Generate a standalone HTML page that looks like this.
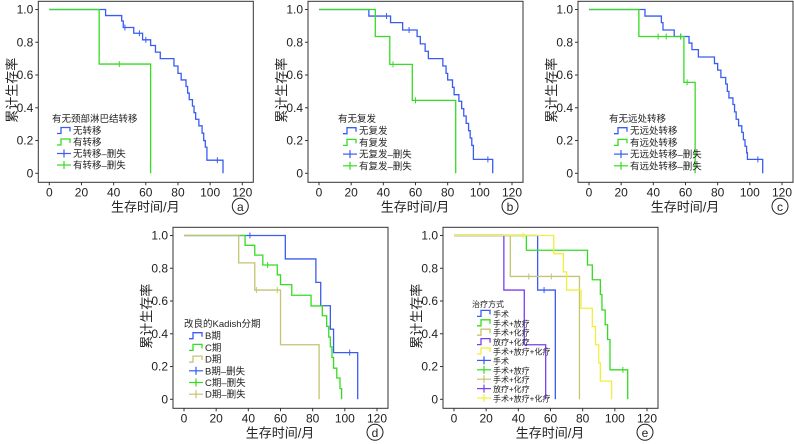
<!DOCTYPE html>
<html><head><meta charset="utf-8">
<style>
html,body{margin:0;padding:0;background:#fff;}
svg{display:block;font-family:"Liberation Sans","Noto Sans CJK SC",sans-serif;}
</style></head>
<body>
<svg id="fig" width="794" height="444" viewBox="0 0 794 444" xmlns="http://www.w3.org/2000/svg"></svg>
<script>
// ---- data ----
const xTicks = [0,20,40,60,80,100,120];
const yTicks = [0,0.2,0.4,0.6,0.8,1.0];
const yTickLabels = ["0","0.2","0.4","0.6","0.8","1.0"];

const aNoTimes = [35,45,46,52.5,58,63,66,69,77.5,80,82,85,86,87,89,90,91,93,95,96,97,98];
const aNoSurv  = [0.963,0.93,0.89,0.855,0.815,0.78,0.74,0.70,0.655,0.61,0.57,0.53,0.49,0.45,0.41,0.37,0.33,0.29,0.245,0.2,0.16,0.08];
const aNoCens = [47,56,60,104.5];
const aYesTimes = [31]; const aYesSurv = [0.667]; const aYesCens = [43.5];

const bNoTimes = [31,44.5,52,61,63,66,68,77,79,80,83,84,87,88.7,90,91.5,93,94,95,96];
const bNoSurv  = [0.96,0.92,0.875,0.835,0.79,0.745,0.70,0.655,0.61,0.57,0.525,0.48,0.44,0.395,0.35,0.305,0.26,0.215,0.17,0.085];
const bNoCens = [42,56,105];
const bYesTimes = [35,44,58]; const bYesSurv = [0.835,0.665,0.445]; const bYesCens = [46,60];

const cNoTimes = [34.8,45,46,53,62.2,64,68,78,80,82,85,86,87,89.5,90.5,91.5,93,95,96,97,98,98.5];
const cNoSurv  = [0.96,0.92,0.875,0.835,0.795,0.755,0.71,0.67,0.63,0.585,0.545,0.5,0.46,0.42,0.375,0.33,0.29,0.25,0.205,0.165,0.125,0.085];
const cNoCens = [57,105];
const cYesTimes = [31,59]; const cYesSurv = [0.835,0.555]; const cYesCens = [43,48,57,61];

const dBTimes = [63,82,85,91,93]; const dBSurv = [0.857,0.714,0.571,0.428,0.285]; const dBCens = [41,103];
const dCTimes = [38,44,49,58,60,67,79,86,88.7,90,91,92,93,95,97];
const dCSurv  = [0.94,0.88,0.82,0.76,0.70,0.635,0.57,0.51,0.445,0.38,0.32,0.255,0.19,0.13,0.065]; const dCCens = [52];
const dDTimes = [34,44,60]; const dDSurv = [0.833,0.667,0.333]; const dDCens = [45,58];

const eS1Times = [52]; const eS1Surv = [0.667]; const eS1Cens = [56];
const eS2Times = [45,83,86,91,92,94,95.5,97]; const eS2Surv = [0.91,0.82,0.73,0.64,0.545,0.455,0.365,0.18]; const eS2Cens = [105];
const eS3Times = [35]; const eS3Surv = [0.75]; const eS3Cens = [46.5,60.5];
const eS4Times = [31,43.7]; const eS4Surv = [0.667,0.333]; const eS4Cens = [];
const eS5Times = [62,68,70,79,86,88,90,91]; const eS5Surv = [0.889,0.778,0.667,0.556,0.444,0.333,0.222,0.111]; const eS5Cens = [43];

const BLUE="#3a5cf2", GREEN="#35dc22", OLIVE="#c4c474", PURPLE="#7a3ff0", YELLOW="#f2ee3c";

const panels = [
 {id:"a",x0:49.3,y0:173.3,legend:{x:52,y:119,gap:11.5,fs:9.5,title:"有无颈部淋巴结转移"},
  series:[{n:"无转移",c:BLUE,t:aNoTimes,s:aNoSurv,cen:aNoCens,end:108},{n:"有转移",c:GREEN,t:aYesTimes,s:aYesSurv,cen:aYesCens,end:63}]},
 {id:"b",x0:319,y0:173.3,legend:{x:338,y:119,gap:11.7,fs:9.5,title:"有无复发"},
  series:[{n:"无复发",c:BLUE,t:bNoTimes,s:bNoSurv,cen:bNoCens,end:108},{n:"有复发",c:GREEN,t:bYesTimes,s:bYesSurv,cen:bYesCens,end:85}]},
 {id:"c",x0:589,y0:173.3,legend:{x:609,y:119,gap:11.7,fs:9.5,title:"有无远处转移"},
  series:[{n:"无远处转移",c:BLUE,t:cNoTimes,s:cNoSurv,cen:cNoCens,end:108},{n:"有远处转移",c:GREEN,t:cYesTimes,s:cYesSurv,cen:cYesCens,end:66}]},
 {id:"d",x0:184,y0:399.3,legend:{x:184,y:324,gap:11.7,fs:9.5,title:"改良的Kadish分期"},
  series:[{n:"B期",c:BLUE,t:dBTimes,s:dBSurv,cen:dBCens,end:108},{n:"C期",c:GREEN,t:dCTimes,s:dCSurv,cen:dCCens,end:98},{n:"D期",c:OLIVE,t:dDTimes,s:dDSurv,cen:dDCens,end:84}]},
 {id:"e",x0:454,y0:399.3,legend:{x:472,y:304,gap:9.4,fs:8,title:"治疗方式"},
  series:[{n:"手术",c:BLUE,t:eS1Times,s:eS1Surv,cen:eS1Cens,end:63},{n:"手术+放疗",c:GREEN,t:eS2Times,s:eS2Surv,cen:eS2Cens,end:108},
          {n:"手术+化疗",c:OLIVE,t:eS3Times,s:eS3Surv,cen:eS3Cens,end:78},{n:"放疗+化疗",c:PURPLE,t:eS4Times,s:eS4Surv,cen:eS4Cens,end:57},
          {n:"手术+放疗+化疗",c:YELLOW,t:eS5Times,s:eS5Surv,cen:eS5Cens,end:98}]}
];

const NS="http://www.w3.org/2000/svg";
const svg=document.getElementById("fig");
function mk(tag,attrs,parent,text){const e=document.createElementNS(NS,tag);for(const k in attrs)e.setAttribute(k,attrs[k]);if(text!==undefined)e.textContent=text;(parent||svg).appendChild(e);return e;}
function survAt(ser,t){let v=1;for(let i=0;i<ser.t.length;i++){if(ser.t[i]<=t)v=ser.s[i];}return v;}

panels.forEach(p=>{
  const sx=t=>p.x0+t*193/120, sy=v=>p.y0-v*163.8;
  const g=mk("g",{});
  
  
  const fr=mk("rect",{x:p.x0-11,y:p.y0-172,width:215,height:181,fill:"none",stroke:"#333","stroke-width":1},g);
  
  
  xTicks.forEach(t=>{
    mk("line",{x1:sx(t),x2:sx(t),y1:p.y0+9,y2:p.y0+12,stroke:"#333"},g);
    const tx=mk("text",{x:sx(t),y:p.y0+23,"font-size":12,"text-anchor":"middle",fill:"#222"},g,String(t));
    
    
  });
  yTicks.forEach((v,i)=>{
    mk("line",{x1:p.x0-14,x2:p.x0-11,y1:sy(v),y2:sy(v),stroke:"#333"},g);
    const tx=mk("text",{x:p.x0-16,y:sy(v)+4,"font-size":12,"text-anchor":"end",fill:"#222"},g,yTickLabels[i]);
    
    
  });
  const xt=mk("text",{x:p.x0+96,y:p.y0+38,"font-size":13,"text-anchor":"middle",fill:"#222"},g,"生存时间/月");
  
  
  const yt=mk("text",{x:0,y:0,"font-size":13,"text-anchor":"middle",fill:"#222",transform:`translate(${p.x0-33},${p.y0-83}) rotate(-90)`},g,"累计生存率");
  
  
  mk("circle",{cx:p.x0+191,cy:p.y0+33,r:8,fill:"#fff",stroke:"#222","stroke-width":1},g);
  const pl=mk("text",{x:p.x0+191,y:p.y0+37.5,"font-size":12,"text-anchor":"middle",fill:"#222"},g,p.id);
  
  
  // curves
  p.series.forEach(ser=>{
    let d=`M${sx(0)},${sy(1)}`;let v=1;
    ser.t.forEach((t,i)=>{d+=` H${sx(t)} V${sy(ser.s[i])}`;v=ser.s[i];});
    d+=` H${sx(ser.end)} V${sy(0)}`;
    const path=mk("path",{d:d,fill:"none",stroke:ser.c,"stroke-width":1.3},g);
    
    
    ser.cen.forEach(t=>{
      const y=sy(survAt(ser,t));
      const cm=mk("line",{x1:sx(t),x2:sx(t),y1:y-3,y2:y+3,stroke:ser.c,"stroke-width":1},g);
      
      
    });
  });
  // legend
  const L=p.legend;
  const lg=mk("g",{},g);
  
  
  mk("text",{x:L.x,y:L.y+3,"font-size":L.fs,fill:"#222"},lg,L.title);
  const ix=L.x+5;
  p.series.forEach((ser,i)=>{
    const y=L.y+L.gap*(i+1);
    mk("polyline",{points:`${ix},${y+3} ${ix+4},${y+3} ${ix+4},${y-3} ${ix+13},${y-3} ${ix+13},${y+1}`,fill:"none",stroke:ser.c,"stroke-width":1.3},lg);
    const t=mk("text",{x:ix+16,y:y+3.5,"font-size":L.fs,fill:"#222"},lg,ser.n);
    
    
  });
  p.series.forEach((ser,i)=>{
    const y=L.y+L.gap*(i+1+p.series.length);
    mk("line",{x1:ix,x2:ix+14,y1:y,y2:y,stroke:ser.c,"stroke-width":1.2},lg);
    mk("line",{x1:ix+7,x2:ix+7,y1:y-4,y2:y+4,stroke:ser.c,"stroke-width":1.2},lg);
    const t=mk("text",{x:ix+16,y:y+3.5,"font-size":L.fs,fill:"#222"},lg,p.id==="e"?ser.n:ser.n+"–删失");
    
    
  });
});
</script>
</body></html>
